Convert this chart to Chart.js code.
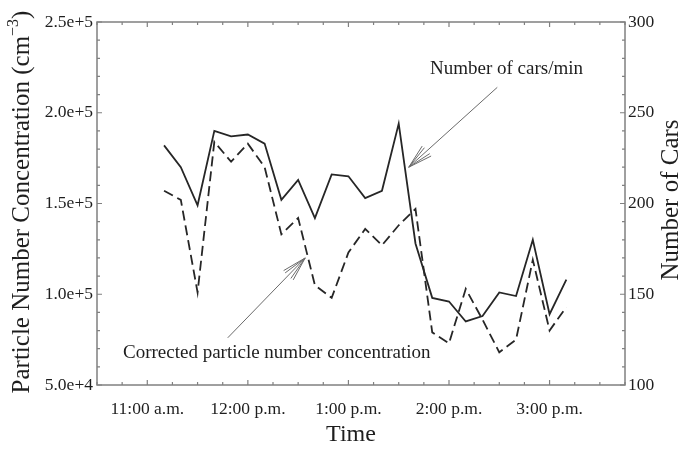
<!DOCTYPE html>
<html>
<head>
<meta charset="utf-8">
<script src="https://cdn.jsdelivr.net/npm/chart.js@4"></script>
<style>
  html, body { margin: 0; padding: 0; background: #fff; }
  #wrap { width: 686px; height: 450px; }
</style>
</head>
<body>
<div id="wrap"><canvas id="trafficChart" width="686" height="450"></canvas></div>
<script>
// sample times (10 min apart)
const times = ['11:10', '11:20', '11:30', '11:40', '11:50', '12:00', '12:10', '12:20', '12:30', '12:40',
               '12:50', '13:00', '13:10', '13:20', '13:30', '13:40', '13:50', '14:00', '14:10', '14:20',
               '14:30', '14:40', '14:50', '15:00', '15:10'];
// number of cars/min (right axis)
const cars = [232, 220, 199, 240, 237, 238, 233, 202, 213, 192,
              216, 215, 203, 207, 244, 178, 148, 146, 135, 138,
              151, 149, 180, 139, 158];
// corrected particle number concentration, cm^-3 (left axis)
const particles = [157000, 152000, 101000, 184000, 173000, 183000, 170000, 133000, 142000, 105000,
                   98000, 123000, 136000, 127000, 138000, 147000, 79000, 73000, 103000, 86000,
                   68000, 75000, 119000, 80000, 93000];

const hourTicks = [11, 12, 13, 14, 15];
const hourLabels = ['11:00 a.m.', '12:00 p.m.', '1:00 p.m.', '2:00 p.m.', '3:00 p.m.'];
const leftTicks = [50000, 100000, 150000, 200000, 250000];
const leftTickLabels = ['5.0e+4', '1.0e+5', '1.5e+5', '2.0e+5', '2.5e+5'];
const rightTicks = [100, 150, 200, 250, 300];

const toHours = s => { const p = s.split(':').map(Number); return p[0] + p[1] / 60; };

const serif = "'Liberation Serif', 'DejaVu Serif', serif";
const ink = '#1e1e1e';
const axisGray = '#808080';

// frame, inward ticks, titles and the two arrow notes
const decorations = {
    id: 'decorations',
    afterDraw(chart) {
        const ctx = chart.ctx;
        const a = chart.chartArea;
        const sx = chart.scales.x, sy = chart.scales.y, sr = chart.scales.y1;
        ctx.save();
        ctx.strokeStyle = axisGray;
        ctx.lineWidth = 1.5;
        ctx.strokeRect(a.left, a.top, a.right - a.left, a.bottom - a.top);

        ctx.lineWidth = 1.2;
        ctx.beginPath();
        for (let k = 0; k <= 21; k++) {
            const t = 10.5 + k * 0.25;
            const px = sx.getPixelForValue(t);
            const len = (k % 4 === 2) ? 5 : 3;
            ctx.moveTo(px, a.bottom); ctx.lineTo(px, a.bottom - len);
            ctx.moveTo(px, a.top); ctx.lineTo(px, a.top + len);
        }
        for (let v = 50000; v <= 250000; v += 10000) {
            const py = sy.getPixelForValue(v);
            const len = (v % 50000 === 0) ? 5 : 3;
            ctx.moveTo(a.left, py); ctx.lineTo(a.left + len, py);
        }
        for (let v = 100; v <= 300; v += 10) {
            const py = sr.getPixelForValue(v);
            const len = (v % 50 === 0) ? 5 : 3;
            ctx.moveTo(a.right, py); ctx.lineTo(a.right - len, py);
        }
        ctx.stroke();

        // axis titles
        ctx.fillStyle = ink;
        ctx.textBaseline = 'middle';
        ctx.textAlign = 'left';
        ctx.save();
        ctx.translate(22, 202);
        ctx.rotate(-Math.PI / 2);
        const main = 'Particle Number Concentration (cm';
        ctx.font = '25px ' + serif;
        const w1 = ctx.measureText(main).width;
        const w3 = ctx.measureText(')').width;
        ctx.font = '16px ' + serif;
        const w2 = ctx.measureText('\u22123').width;
        let x0 = -(w1 + w2 + w3) / 2;
        ctx.font = '25px ' + serif;
        ctx.fillText(main, x0, 0);
        ctx.font = '16px ' + serif;
        ctx.fillText('\u22123', x0 + w1, -8);
        ctx.font = '25px ' + serif;
        ctx.fillText(')', x0 + w1 + w2, 0);
        ctx.restore();

        ctx.save();
        ctx.translate(671, 200);
        ctx.rotate(-Math.PI / 2);
        ctx.textAlign = 'center';
        ctx.font = '25px ' + serif;
        ctx.fillText('Number of Cars', 0, 0);
        ctx.restore();

        ctx.textAlign = 'center';
        ctx.font = '24px ' + serif;
        ctx.fillText('Time', 351, 435);

        // notes with arrows
        const arrow = (x1, y1, x2, y2) => {
            ctx.strokeStyle = '#6a6a6a';
            ctx.lineWidth = 1;
            ctx.beginPath();
            ctx.moveTo(x1, y1); ctx.lineTo(x2, y2);
            const ang = Math.atan2(y2 - y1, x2 - x1);
            [0.16, 0.27, -0.16, -0.27].forEach(d => {
                ctx.moveTo(x2, y2);
                ctx.lineTo(x2 - 25 * Math.cos(ang + d), y2 - 25 * Math.sin(ang + d));
            });
            ctx.stroke();
        };
        arrow(sx.getPixelForValue(14.48), sr.getPixelForValue(264),
              sx.getPixelForValue(13.6), sr.getPixelForValue(220));
        arrow(sx.getPixelForValue(11.8), sy.getPixelForValue(76000),
              sx.getPixelForValue(12.57), sy.getPixelForValue(120000));

        ctx.fillStyle = ink;
        ctx.font = '19px ' + serif;
        ctx.textAlign = 'left';
        ctx.fillText('Number of cars/min', 430, 69);
        ctx.fillText('Corrected particle number concentration', 123, 353);
        ctx.restore();
    }
};

const ctx = document.getElementById('trafficChart').getContext('2d');

new Chart(ctx, {
    type: 'line',
    data: {
        datasets: [{
            label: 'Number of cars/min',
            data: times.map((t, i) => ({ x: toHours(t), y: cars[i] })),
            yAxisID: 'y1',
            borderColor: '#262626',
            borderWidth: 1.8,
            pointRadius: 0,
            tension: 0
        }, {
            label: 'Corrected particle number concentration',
            data: times.map((t, i) => ({ x: toHours(t), y: particles[i] })),
            yAxisID: 'y',
            borderColor: '#262626',
            borderWidth: 1.8,
            borderDash: [10, 5],
            pointRadius: 0,
            tension: 0
        }]
    },
    options: {
        responsive: false,
        animation: false,
        layout: { padding: { top: 22 } },
        plugins: {
            legend: { display: false },
            tooltip: { enabled: false }
        },
        scales: {
            x: {
                type: 'linear',
                min: 10.5,
                max: 15.75,
                afterBuildTicks: s => { s.ticks = hourTicks.map(v => ({ value: v })); },
                afterFit: s => { s.height = 65; },
                grid: { display: false, drawTicks: false },
                border: { display: false },
                ticks: {
                    padding: 14,
                    maxRotation: 0,
                    autoSkip: false,
                    color: ink,
                    font: { family: serif, size: 17.5 },
                    callback: v => hourLabels[hourTicks.indexOf(v)]
                }
            },
            y: {
                position: 'left',
                min: 50000,
                max: 250000,
                afterBuildTicks: s => { s.ticks = leftTicks.map(v => ({ value: v })); },
                afterFit: s => { s.width = 97; },
                grid: { display: false, drawTicks: false },
                border: { display: false },
                ticks: {
                    padding: 4,
                    color: ink,
                    font: { family: serif, size: 17.5 },
                    callback: v => leftTickLabels[leftTicks.indexOf(v)]
                }
            },
            y1: {
                position: 'right',
                min: 100,
                max: 300,
                afterBuildTicks: s => { s.ticks = rightTicks.map(v => ({ value: v })); },
                afterFit: s => { s.width = 61; },
                grid: { display: false, drawTicks: false },
                border: { display: false },
                ticks: {
                    padding: 3,
                    color: ink,
                    font: { family: serif, size: 17.5 }
                }
            }
        }
    },
    plugins: [decorations]
});
</script>
</body>
</html>
